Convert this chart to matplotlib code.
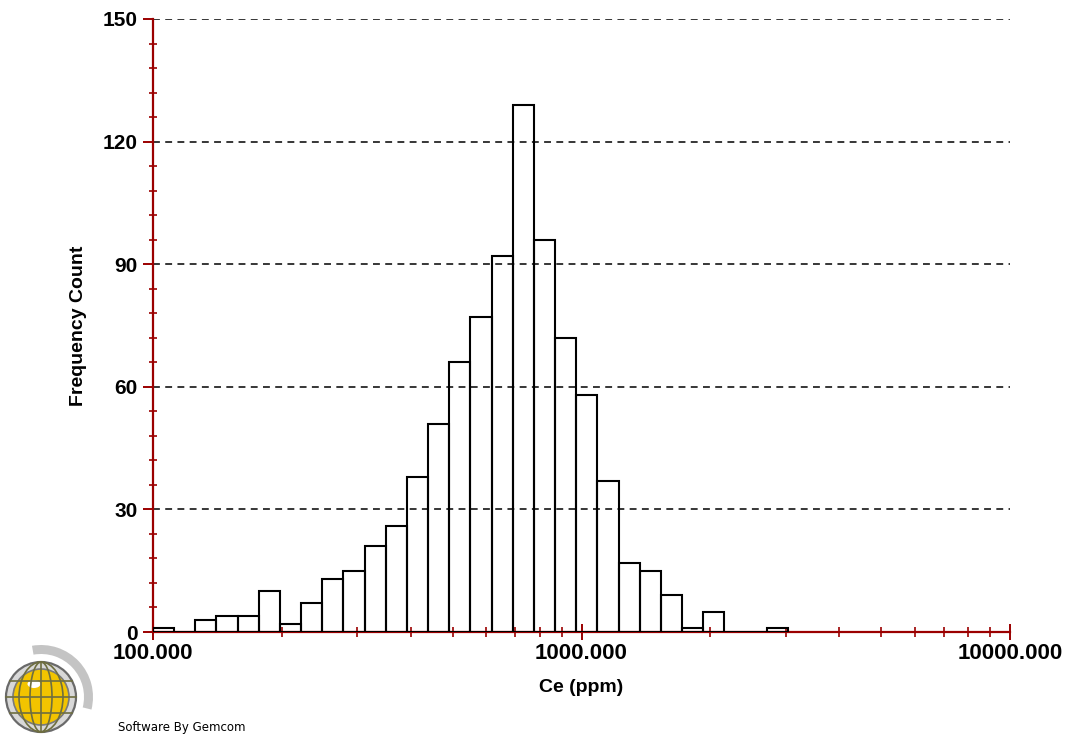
import matplotlib
matplotlib.use('Agg')
import matplotlib.pyplot as plt
import numpy as np
from matplotlib.patches import Circle, Wedge, Ellipse
from matplotlib.ticker import FixedLocator, NullFormatter

# Ce (ppm) histogram, 30 log-spaced bins between ce_min and ce_max
ce_min = 100.0
ce_max = 3030.0
n_bins = 30
counts = [1, 0, 3, 4, 4, 10, 2, 7, 13, 15,
          21, 26, 38, 51, 66, 77, 92, 129, 96, 72,
          58, 37, 17, 15, 9, 1, 5, 0, 0, 1]

x_ticks = [100, 1000, 10000]
x_tick_labels = ['100.000', '1000.000', '10000.000']
y_ticks = [0, 30, 60, 90, 120, 150]

red = '#9b0000'
plt.rcParams['font.family'] = ['Liberation Sans', 'DejaVu Sans']

fig = plt.figure(figsize=(10.66, 7.38), dpi=100)
ax = fig.add_axes([153/1066, 1-632/738, 857/1066, 613/738])

edges = np.logspace(np.log10(ce_min), np.log10(ce_max), n_bins + 1)
ax.bar(edges[:-1], counts, width=np.diff(edges), align='edge',
       facecolor='none', edgecolor='black', linewidth=1.5, zorder=3)

ax.set_xscale('log')
ax.set_xlim(100, 10000)
ax.set_ylim(0, 150)

# dashed horizontal grid
for y in y_ticks[1:]:
    ax.axhline(y, color='black', linestyle=(0, (4.5, 3.5)), linewidth=1.1, zorder=1)

for s in ['top', 'right']:
    ax.spines[s].set_visible(False)
for s in ['left', 'bottom']:
    ax.spines[s].set_color(red)
    ax.spines[s].set_linewidth(1.6)

ax.set_xticks(x_ticks)
ax.set_xticklabels(x_tick_labels, fontsize=16, fontweight='bold')
minor_x = [m * d for d in (100, 1000) for m in range(2, 10)]
ax.xaxis.set_minor_locator(FixedLocator(minor_x))
ax.xaxis.set_minor_formatter(NullFormatter())

ax.set_yticks(y_ticks)
ax.set_yticklabels([str(v) for v in y_ticks], fontsize=15, fontweight='bold')
ax.yaxis.set_minor_locator(FixedLocator(np.arange(0, 151, 6)))

ax.tick_params(axis='x', which='major', direction='inout', length=12, width=1.4,
               color=red, pad=2)
ax.tick_params(axis='x', which='minor', direction='inout', length=7, width=1.2, color=red)
ax.tick_params(axis='y', which='major', direction='out', length=7, width=1.4,
               color=red, pad=4)
ax.tick_params(axis='y', which='minor', direction='inout', length=6, width=1.2, color=red)

ax.set_xlabel('Ce (ppm)', fontsize=14, fontweight='bold', labelpad=11)
ax.set_ylabel('Frequency Count', fontsize=14, fontweight='bold', labelpad=11)

# Gemcom logo, drawn in pixel units
lg = fig.add_axes([0, 0, 110/1066, 98/738])
lg.set_xlim(0, 110)
lg.set_ylim(0, 98)
lg.axis('off')
cx, cy = 41, 41
lg.add_patch(Wedge((cx, cy), 52, -14, 100, width=9, facecolor='#c4c4c4', edgecolor='none'))
lg.add_patch(Circle((cx, cy), 35, facecolor='#d8d8d8', edgecolor='#6a6a6a', linewidth=1.6))
lg.add_patch(Circle((cx, cy), 28, facecolor='#f2c400', edgecolor='#7a7a7a', linewidth=1.2))
lg.add_patch(Ellipse((cx - 7, cy + 13), 13, 8, facecolor='white', edgecolor='none'))
for w in (22, 44):
    lg.add_patch(Ellipse((cx, cy), w, 70, facecolor='none', edgecolor='#6e6e40', linewidth=1.2))
lg.plot([cx, cx], [cy - 35, cy + 35], color='#6e6e40', linewidth=1.2)
for dy in (-16, 0, 16):
    half = np.sqrt(35**2 - dy**2)
    lg.plot([cx - half, cx + half], [cy + dy, cy + dy], color='#6e6e40', linewidth=1.2)

fig.text(118/1066, 1-728/738, 'Software By Gemcom', fontsize=8.5, va='center', ha='left',
         family='DejaVu Sans')

fig.savefig('out.png', dpi=100, facecolor='white')
